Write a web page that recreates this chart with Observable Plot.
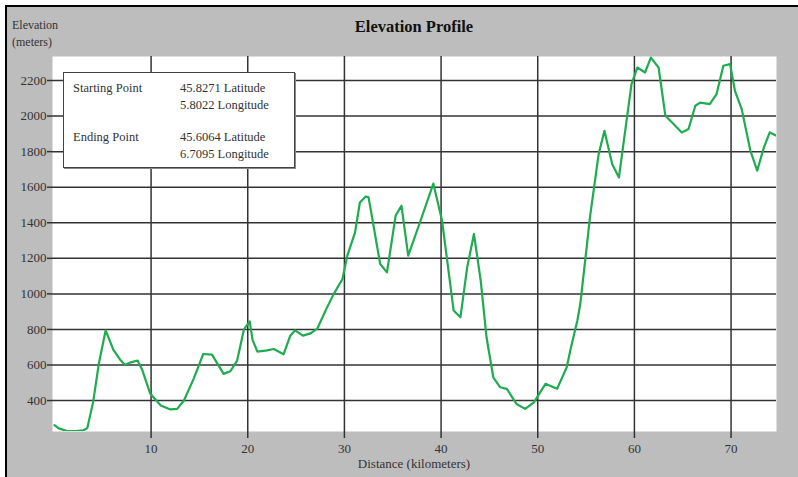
<!DOCTYPE html>
<html>
<head>
<meta charset="utf-8">
<script src="https://cdn.jsdelivr.net/npm/d3@7"></script>
<script src="https://cdn.jsdelivr.net/npm/@observablehq/plot@0.6"></script>
<style>
  html, body { margin: 0; padding: 0; background: #fff; }
  #wrap { position: relative; width: 798px; height: 477px; overflow: hidden; background: #fff;
          font-family: "Liberation Serif", "Times New Roman", serif; color: #333; }
  #bg { position: absolute; left: 5px; top: 5px; right: 0; bottom: 0; background: #bdbdbd;
        border-left: 2px solid #000; border-top: 2px solid #000; }
  #chart { position: absolute; left: 0; top: 0; }
  .t { position: absolute; white-space: nowrap; line-height: 14px; }
  #title { left: 0; width: 828px; text-align: center; top: 18px; font-size: 16.5px; font-weight: bold; color: #111; line-height: 18px; }
  #ylab1 { left: 12px; top: 18px; font-size: 12px; }
  #ylab2 { left: 12px; top: 35px; font-size: 12px; }
  #xlab { left: 0; width: 828px; text-align: center; top: 457px; font-size: 13px; }
  #legend { position: absolute; left: 63px; top: 72px; width: 230px; height: 94px; background: #fff;
            border: 1px solid #444; box-shadow: 1px 1px 0 #888; }
  .lg { position: absolute; white-space: nowrap; font-size: 12.5px; line-height: 14px; color: #333; }
</style>
</head>
<body>
<div id="wrap">
  <div id="bg"></div>
  <div id="chart"></div>
  <div id="title" class="t"></div>
  <div id="ylab1" class="t"></div>
  <div id="ylab2" class="t"></div>
  <div id="xlab" class="t"></div>
  <div id="legend"></div>
</div>
<script>
// ---- data ----
const distanceKm = [0.0, 0.4, 1.3, 2.2, 3.0, 3.4, 4.0, 4.6, 5.3, 6.1, 6.8, 7.3, 7.9, 8.6, 9.1, 9.9,
  11.0, 12.0, 12.7, 13.4, 14.4, 15.4, 16.3, 17.5, 18.2, 18.9, 19.6, 20.2, 20.5, 21.0, 22.0, 22.7,
  23.7, 24.4, 24.9, 25.7, 26.5, 27.2, 28.2, 28.9, 29.8, 30.3, 31.1, 31.6, 32.2, 32.5, 33.7, 34.4,
  35.3, 35.9, 36.6, 37.8, 39.2, 40.1, 41.3, 42.0, 42.7, 43.4, 44.1, 44.7, 45.4, 46.1, 46.8, 47.8,
  48.7, 49.6, 50.8, 52.0, 53.0, 53.4, 54.1, 54.4, 55.1, 55.4, 56.3, 56.9, 57.7, 58.4, 59.0, 59.7,
  60.3, 61.1, 61.7, 62.5, 63.2, 63.9, 64.9, 65.6, 66.3, 66.8, 67.8, 68.5, 69.2, 69.9, 70.4, 71.1,
  72.0, 72.7, 73.4, 74.0, 74.7];
const elevationM = [262, 245, 228, 228, 233, 245, 390, 610, 795, 685, 630, 600, 615, 625, 570, 440,
  372, 350, 353, 400, 522, 662, 658, 550, 565, 625, 800, 845, 740, 675, 682, 690,
  660, 765, 795, 765, 778, 805, 924, 1000, 1084, 1215, 1346, 1514, 1548, 1543, 1168, 1121,
  1440, 1496, 1215, 1400, 1620, 1412, 906, 868, 1149, 1337, 1074, 756, 531, 475, 466, 381,
  353, 390, 494, 466, 587, 690, 850, 943, 1281, 1430, 1786, 1917, 1730, 1655, 1899, 2180,
  2273, 2245, 2329, 2273, 2002, 1964, 1908, 1927, 2058, 2076, 2067, 2124, 2283, 2292, 2142, 2039,
  1805, 1693, 1824, 1908, 1889];
const xTickValues = [10, 20, 30, 40, 50, 60, 70];
const yTickValues = [400, 600, 800, 1000, 1200, 1400, 1600, 1800, 2000, 2200];
const titleText = "Elevation Profile";
const yLabelLines = ["Elevation", "(meters)"];
const xLabelText = "Distance (kilometers)";
const legendNames = ["Starting Point", "Ending Point"];
const legendLat = ["45.8271 Latitude", "45.6064 Latitude"];
const legendLon = ["5.8022 Longitude", "6.7095 Longitude"];

// ---- build ----
const profile = distanceKm.map((d, i) => ({km: d, m: elevationM[i]}));
const gridColor = "#333";

const chart = Plot.plot({
  width: 798,
  height: 477,
  marginLeft: 52,
  marginRight: 22,
  marginTop: 56,
  marginBottom: 46,
  style: {background: "transparent", fontFamily: "Liberation Serif, Times New Roman, serif", fontSize: "13px", color: "#333"},
  x: {domain: [-0.2, 74.7], label: null},
  y: {domain: [226, 2335], label: null},
  marks: [
    Plot.frame({fill: "#fff", stroke: null}),
    Plot.gridX(xTickValues, {stroke: gridColor, strokeOpacity: 1, strokeWidth: 1.5}),
    Plot.gridY(yTickValues, {stroke: gridColor, strokeOpacity: 1, strokeWidth: 1.5}),
    Plot.axisX({ticks: xTickValues, tickSize: 7, tickPadding: 5, stroke: gridColor, strokeWidth: 1.5, tickFormat: d => String(d), label: null}),
    Plot.axisY({ticks: yTickValues, tickSize: 5, tickPadding: 1, stroke: gridColor, strokeWidth: 1.5, tickFormat: d => String(d), label: null}),
    Plot.line(profile, {x: "km", y: "m", stroke: "#1fab50", strokeWidth: 2.2, strokeLinejoin: "round", clip: true})
  ]
});
document.getElementById("chart").appendChild(chart);

document.getElementById("title").textContent = titleText;
document.getElementById("ylab1").textContent = yLabelLines[0];
document.getElementById("ylab2").textContent = yLabelLines[1];
document.getElementById("xlab").textContent = xLabelText;

const legend = document.getElementById("legend");
const rowsTop = [8, 57];
legendNames.forEach((name, i) => {
  const a = document.createElement("div"); a.className = "lg"; a.style.left = "9px"; a.style.top = rowsTop[i] + "px"; a.textContent = name; legend.appendChild(a);
  const b = document.createElement("div"); b.className = "lg"; b.style.left = "116px"; b.style.top = rowsTop[i] + "px"; b.textContent = legendLat[i]; legend.appendChild(b);
  const c = document.createElement("div"); c.className = "lg"; c.style.left = "116px"; c.style.top = (rowsTop[i] + 17) + "px"; c.textContent = legendLon[i]; legend.appendChild(c);
});
</script>
</body>
</html>
